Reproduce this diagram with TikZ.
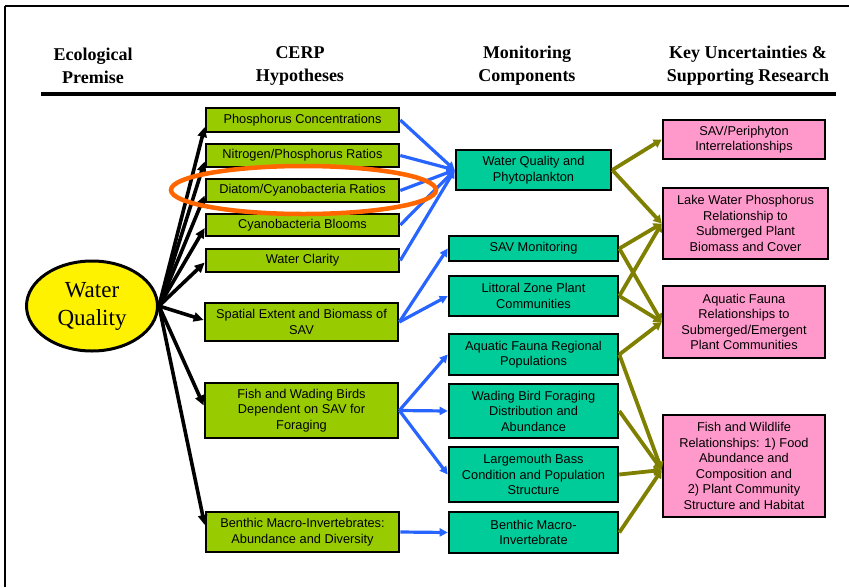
\documentclass[tikz,border=0pt]{standalone}
\usepackage{fontspec}
\setmainfont{Liberation Serif}
\setsansfont{Liberation Sans}
\usetikzlibrary{arrows.meta,shapes.geometric}

\definecolor{limebox}{RGB}{153,204,0}
\definecolor{tealbox}{RGB}{0,204,153}
\definecolor{pinkbox}{RGB}{255,153,204}
\definecolor{bluearrow}{RGB}{40,100,255}
\definecolor{olivearrow}{RGB}{128,128,0}
\definecolor{ringorange}{RGB}{255,102,0}

\tikzset{
  colhead/.style={font=\bfseries\fontsize{18}{23}\selectfont, align=center, inner sep=0pt},
  basebox/.style={draw=black, line width=2.6pt, align=center, inner sep=0pt,
    font=\sffamily\fontsize{12.8}{15.5}\selectfont},
  hypbox/.style={basebox, fill=limebox, minimum width=193pt},
  monbox/.style={basebox, fill=tealbox, minimum width=169pt},
  resbox/.style={basebox, fill=pinkbox, minimum width=162pt},
  blackarr/.style={draw=black, line width=3.6pt, -{Triangle[length=10pt,width=9pt]}},
  bluearr/.style={draw=bluearrow, line width=3.2pt, -{Triangle[length=8pt,width=8pt]}},
  olivearr/.style={draw=olivearrow, line width=3.8pt, -{Triangle[length=8pt,width=9pt]}},
}

\begin{document}
\begin{tikzpicture}[x=1pt, y=-1pt]
\useasboundingbox (0,0) rectangle (849,587);

% outer frame (top and left edges)
\draw[line width=2.5pt] (5,6) -- (849,6);
\draw[line width=1.5pt] (5,6) -- (5,587);

% column headings
\node[colhead] (h1) at (93,66) {Ecological\\Premise};
\node[colhead] (h2) at (300,66) {CERP\\Hypotheses};
\node[colhead] (h3) at (527,66) {Monitoring\\Components};
\node[colhead] (h4) at (748,66) {Key Uncertainties \&\\Supporting Research};
\draw[line width=4pt] (41,94) -- (836,94);

% ecological premise
\node[draw=black, line width=3pt, fill=yellow, ellipse, inner sep=0pt,
      minimum width=131pt, minimum height=90pt,
      font=\fontsize{23}{28}\selectfont, align=center] (wq) at (92,306) {Water\\Quality};

% CERP hypotheses
\node[hypbox, minimum height=24pt] (g1) at (302.5,120)   {Phosphorus Concentrations};
\node[hypbox, minimum height=23pt] (g2) at (302.5,155.5) {Nitrogen/Phosphorus Ratios};
\node[hypbox, minimum height=23pt] (g3) at (302.5,190.5) {Diatom/Cyanobacteria Ratios};
\node[hypbox, minimum height=22pt] (g4) at (302.5,225)   {Cyanobacteria Blooms};
\node[hypbox, minimum height=23pt] (g5) at (302.5,260.5) {Water Clarity};
\node[hypbox, minimum height=38pt] (g6) at (301.5,322)   {Spatial Extent and Biomass of\\SAV};
\node[hypbox, minimum height=55pt] (g7) at (301.5,410.5) {Fish and Wading Birds\\Dependent on SAV for\\Foraging};
\node[hypbox, minimum height=40pt] (g8) at (302.5,532)   {Benthic Macro-Invertebrates:\\Abundance and Diversity};

% monitoring components
\node[monbox, minimum width=155pt, minimum height=40pt] (t1) at (533.5,170) {Water Quality and\\Phytoplankton};
\node[monbox, minimum height=25pt] (t2) at (533.5,248.5) {SAV Monitoring};
\node[monbox, minimum height=40pt] (t3) at (533.5,296)   {Littoral Zone Plant\\Communities};
\node[monbox, minimum height=41pt] (t4) at (533.5,354.5) {Aquatic Fauna Regional\\Populations};
\node[monbox, minimum height=54pt] (t5) at (533.5,411)   {Wading Bird Foraging\\Distribution and\\Abundance};
\node[monbox, minimum height=55pt] (t6) at (533.5,474.5) {Largemouth Bass\\Condition and Population\\Structure};
\node[monbox, minimum height=41pt] (t7) at (533.5,532.5) {Benthic Macro-\\Invertebrate};

% key uncertainties and supporting research
\node[resbox, minimum height=39pt] (p1) at (744,139.5) {SAV/Periphyton\\Interrelationships};
\node[resbox, minimum width=165pt, minimum height=71pt] (p2) at (745.5,223.5) {Lake Water Phosphorus\\Relationship to\\Submerged Plant\\Biomass and Cover};
\node[resbox, minimum height=72pt] (p3) at (744,322) {Aquatic Fauna\\Relationships to\\Submerged/Emergent\\Plant Communities};
\node[resbox, minimum height=102pt] (p4) at (744,466) {Fish and Wildlife\\Relationships: 1) Food\\Abundance and\\Composition and\\2) Plant Community\\Structure and Habitat};

% premise -> hypotheses
\coordinate (hub) at (wq.east);
\draw[blackarr] (hub) -- ([yshift=-7pt]g1.west);
\draw[blackarr] (hub) -- ([yshift=-6pt]g2.west);
\draw[blackarr] (hub) -- ([yshift=-5pt]g3.west);
\draw[blackarr] (hub) -- ([yshift=-3pt]g4.west);
\draw[blackarr] (hub) -- ([yshift=-2pt]g5.west);
\draw[blackarr] (hub) -- ([yshift=2pt]g6.west);
\draw[blackarr] (hub) -- ([yshift=5pt]g7.west);
\draw[blackarr] (hub) -- ([yshift=7pt]g8.west);

% hypotheses -> monitoring
\foreach \g in {g1,g2,g3,g4,g5} \draw[bluearr] (\g.east) -- (t1.west);
\draw[bluearr] (g6.east) -- (t2.west);
\draw[bluearr] (g6.east) -- (t3.west);
\draw[bluearr] (g7.east) -- (t4.west);
\draw[bluearr] (g7.east) -- (t5.west);
\draw[bluearr] (g7.east) -- (t6.west);
\draw[bluearr] (g8.east) -- (t7.west);

% monitoring -> research
\draw[olivearr] (t1.east) -- (p1.west);
\draw[olivearr] (t1.east) -- (p2.west);
\draw[olivearr] (t2.east) -- (p2.west);
\draw[olivearr] (t2.east) -- (p3.west);
\draw[olivearr] (t3.east) -- (p2.west);
\draw[olivearr] (t3.east) -- (p3.west);
\draw[olivearr] (t4.east) -- (p3.west);
\draw[olivearr] (t4.east) -- ([yshift=-4pt]p4.west);
\draw[olivearr] (t5.east) -- ([yshift=-4pt]p4.west);
\draw[olivearr] (t6.east) -- ([yshift=-4pt]p4.west);
\draw[olivearr] (t7.east) -- ([yshift=-4pt]p4.west);

% highlight ring
\node[draw=ringorange, line width=4.5pt, ellipse, inner sep=0pt,
      minimum width=265pt, minimum height=48pt] (ring) at (303.5,190) {};
\end{tikzpicture}
\end{document}
